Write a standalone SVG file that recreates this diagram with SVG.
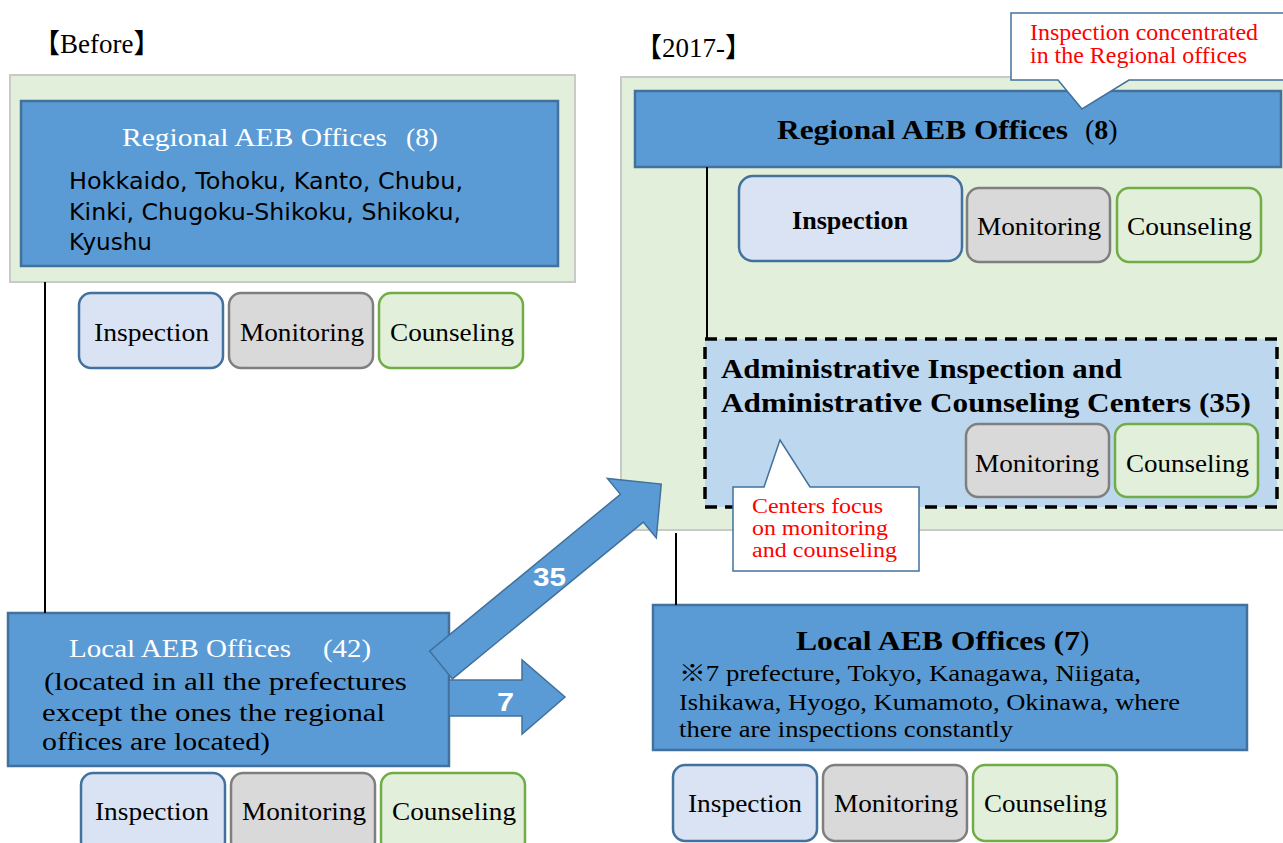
<svg xmlns="http://www.w3.org/2000/svg" width="1283" height="843" viewBox="0 0 1283 843">
<style>
.panel{fill:#e2efda;stroke:#c9c9c9;stroke-width:2}
.blue{fill:#5b9bd5;stroke:#41719c;stroke-width:2.5}
.insp{fill:#dae3f3;stroke:#41719c;stroke-width:2.5}
.mon{fill:#d9d9d9;stroke:#7f7f7f;stroke-width:2.5}
.cou{fill:#e2efda;stroke:#70ad47;stroke-width:2.5}
.dash{fill:#bdd7ee;stroke:#000;stroke-width:3.5;stroke-dasharray:12 8}
.ser{font-family:"Liberation Serif","Noto Sans CJK JP",serif;font-size:25px;fill:#000}
.bold{font-weight:bold;font-size:28px}
.body{font-size:23px}
.w{fill:#fff}
.red{fill:#ff0000;font-size:23px}
.red2{fill:#ff0000;font-size:20px}
.hdr{font-size:27px}
.sans{font-family:"DejaVu Sans","Noto Sans CJK JP",sans-serif;font-size:23px;fill:#000}
.albl{font-family:"Liberation Sans",sans-serif;font-weight:bold;font-size:25px;fill:#fff}
.line{stroke:#000;stroke-width:2;fill:none}
.callout{fill:#fff;stroke:#41719c;stroke-width:1.5}
.arrow{fill:#5b9bd5;stroke:#41719c;stroke-width:1.5}
</style>

<text class="ser hdr" x="33" y="53">【Before】</text>
<text class="ser hdr" x="635" y="57">【2017-】</text>

<g id="before-panel">
<rect class="panel" x="10" y="75" width="565" height="207"/>
</g>
<g id="after-panel">
<rect class="panel" x="621" y="77" width="670" height="453"/>
</g>

<g id="before-regional">
<rect class="blue" x="21" y="101" width="537" height="165"/>
<text class="ser w" font-size="27" x="122" y="146"><tspan textLength="265" lengthAdjust="spacingAndGlyphs">Regional AEB Offices</tspan><tspan x="406" textLength="32" lengthAdjust="spacingAndGlyphs">(8)</tspan></text>
<text class="sans" x="69" y="189" textLength="394" lengthAdjust="spacingAndGlyphs">Hokkaido, Tohoku, Kanto, Chubu,</text>
<text class="sans" x="69" y="220" textLength="392" lengthAdjust="spacingAndGlyphs">Kinki, Chugoku-Shikoku, Shikoku,</text>
<text class="sans" x="69" y="250" textLength="83" lengthAdjust="spacingAndGlyphs">Kyushu</text>
</g>

<g id="before-regional-functions">
<rect class="insp" x="79" y="293" width="144" height="75" rx="12"/>
<text class="ser" x="94" y="341" textLength="115" lengthAdjust="spacingAndGlyphs">Inspection</text>
<rect class="mon" x="229" y="293" width="144" height="75" rx="12"/>
<text class="ser" x="240" y="341" textLength="124" lengthAdjust="spacingAndGlyphs">Monitoring</text>
<rect class="cou" x="379" y="293" width="144" height="75" rx="12"/>
<text class="ser" x="390" y="341" textLength="124" lengthAdjust="spacingAndGlyphs">Counseling</text>
</g>

<g id="before-local">
<rect class="blue" x="8" y="613" width="441" height="153"/>
<text class="ser w" x="69" y="657"><tspan textLength="222" lengthAdjust="spacingAndGlyphs">Local AEB Offices</tspan><tspan x="323" textLength="48" lengthAdjust="spacingAndGlyphs">(42)</tspan></text>
<text class="ser" x="44" y="690" textLength="363" lengthAdjust="spacingAndGlyphs">(located in all the prefectures</text>
<text class="ser" x="42" y="721" textLength="343" lengthAdjust="spacingAndGlyphs">except the ones the regional</text>
<text class="ser" x="42" y="750" textLength="228" lengthAdjust="spacingAndGlyphs">offices are located)</text>
</g>

<g id="before-local-functions">
<rect class="insp" x="81" y="773" width="144" height="80" rx="12"/>
<text class="ser" x="95" y="820" textLength="114" lengthAdjust="spacingAndGlyphs">Inspection</text>
<rect class="mon" x="231" y="773" width="144" height="80" rx="12"/>
<text class="ser" x="242" y="820" textLength="124" lengthAdjust="spacingAndGlyphs">Monitoring</text>
<rect class="cou" x="381" y="773" width="144" height="80" rx="12"/>
<text class="ser" x="392" y="820" textLength="124" lengthAdjust="spacingAndGlyphs">Counseling</text>
</g>

<g id="after-regional">
<rect class="blue" x="635" y="91" width="646" height="76"/>
<text class="ser bold" x="777" y="139"><tspan textLength="291" lengthAdjust="spacingAndGlyphs">Regional AEB Offices</tspan><tspan x="1085" font-weight="normal">(</tspan><tspan>8</tspan><tspan font-weight="normal">)</tspan></text>
</g>

<g id="after-regional-functions">
<rect class="insp" x="739" y="176" width="223" height="85" rx="14"/>
<text class="ser" font-weight="bold" font-size="27" x="792" y="229" textLength="116" lengthAdjust="spacingAndGlyphs">Inspection</text>
<rect class="mon" x="967" y="188" width="143" height="74" rx="12"/>
<text class="ser" x="977" y="235" textLength="124" lengthAdjust="spacingAndGlyphs">Monitoring</text>
<rect class="cou" x="1117" y="188" width="144" height="74" rx="12"/>
<text class="ser" x="1127" y="235" textLength="125" lengthAdjust="spacingAndGlyphs">Counseling</text>
</g>

<g id="after-centers">
<rect class="dash" x="705" y="339" width="572" height="168"/>
<text class="ser bold" x="721" y="378" textLength="401" lengthAdjust="spacingAndGlyphs">Administrative Inspection and</text>
<text class="ser bold" x="721" y="412" textLength="530" lengthAdjust="spacingAndGlyphs">Administrative Counseling Centers (35)</text>
<rect class="mon" x="966" y="424" width="143" height="73" rx="12"/>
<text class="ser" x="975" y="472" textLength="124" lengthAdjust="spacingAndGlyphs">Monitoring</text>
<rect class="cou" x="1115" y="424" width="143" height="73" rx="12"/>
<text class="ser" x="1126" y="472" textLength="123" lengthAdjust="spacingAndGlyphs">Counseling</text>
</g>

<g id="after-local">
<rect class="blue" x="653" y="605" width="594" height="145"/>
<text class="ser bold" x="796" y="650"><tspan textLength="284" lengthAdjust="spacingAndGlyphs">Local AEB Offices (7</tspan><tspan font-weight="normal">)</tspan></text>
<text class="ser body" x="679" y="681" textLength="462" lengthAdjust="spacingAndGlyphs">※7 prefecture, Tokyo, Kanagawa, Niigata,</text>
<text class="ser body" x="679" y="710" textLength="501" lengthAdjust="spacingAndGlyphs">Ishikawa, Hyogo, Kumamoto, Okinawa, where</text>
<text class="ser body" x="679" y="737" textLength="334" lengthAdjust="spacingAndGlyphs">there are inspections constantly</text>
</g>

<g id="after-local-functions">
<rect class="insp" x="673" y="765" width="144" height="76" rx="12"/>
<text class="ser" x="688" y="812" textLength="114" lengthAdjust="spacingAndGlyphs">Inspection</text>
<rect class="mon" x="823" y="765" width="144" height="76" rx="12"/>
<text class="ser" x="834" y="812" textLength="124" lengthAdjust="spacingAndGlyphs">Monitoring</text>
<rect class="cou" x="973" y="765" width="144" height="76" rx="12"/>
<text class="ser" x="984" y="812" textLength="123" lengthAdjust="spacingAndGlyphs">Counseling</text>
</g>

<g id="connectors">
<line class="line" x1="45" y1="282" x2="45" y2="613"/>
<line class="line" x1="707" y1="167" x2="707" y2="340"/>
<line class="line" x1="676" y1="533" x2="676" y2="605"/>
<polygon class="arrow" points="449,680 522,680 522,660 565,697 522,734 522,716 449,716"/>
<text class="albl" x="497" y="711" textLength="17" lengthAdjust="spacingAndGlyphs">7</text>
<polygon class="arrow" transform="translate(441,665) rotate(-39.4)" points="0,-18 247,-18 247,-38.5 285,0 247,38.5 247,18 0,18"/>
<text class="albl" x="533" y="586" textLength="33" lengthAdjust="spacingAndGlyphs">35</text>
</g>

<g id="callout-regional">
<path class="callout" d="M1011,13 H1292 V80 H1129 L1082,109 L1058,80 H1011 Z"/>
<text class="ser red" x="1030" y="40" textLength="228" lengthAdjust="spacingAndGlyphs">Inspection concentrated</text>
<text class="ser red" x="1030" y="63" textLength="217" lengthAdjust="spacingAndGlyphs">in the Regional offices</text>
</g>

<g id="callout-centers">
<path class="callout" d="M733,487 H764 L780,440 L810,487 H919 V571 H733 Z"/>
<text class="ser red2" x="752" y="513" textLength="131" lengthAdjust="spacingAndGlyphs">Centers focus</text>
<text class="ser red2" x="752" y="535" textLength="136" lengthAdjust="spacingAndGlyphs">on monitoring</text>
<text class="ser red2" x="752" y="557" textLength="145" lengthAdjust="spacingAndGlyphs">and counseling</text>
</g>
</svg>
